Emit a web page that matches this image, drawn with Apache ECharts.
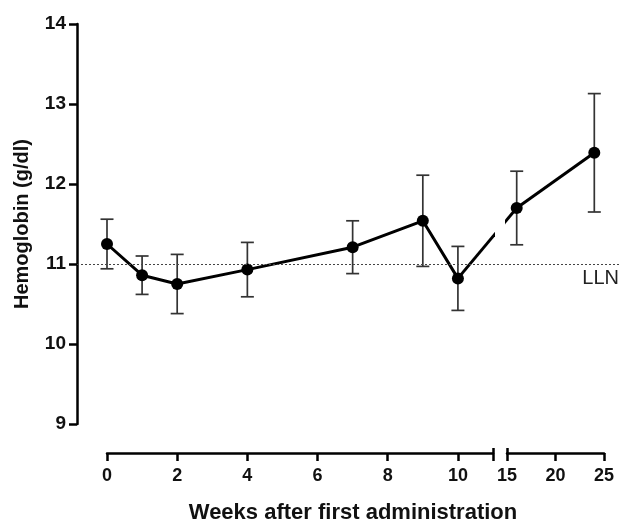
<!DOCTYPE html>
<html>
<head>
<meta charset="utf-8">
<script src="https://cdn.jsdelivr.net/npm/echarts@6/dist/echarts.min.js"></script>
<style>html,body{margin:0;padding:0;background:#fff}#c{width:620px;height:522px}</style>
</head>
<body>
<div id="c"></div>
<script>
// ---- data ----
const weeksEarly = [0, 1, 2, 4, 7, 9, 10];
const meanEarly  = [11.25, 10.86, 10.75, 10.93, 11.21, 11.54, 10.82];
const sdEarly    = [0.31, 0.24, 0.37, 0.34, 0.33, 0.57, 0.40];
const weeksLate  = [16, 24];
const meanLate   = [11.70, 12.39];
const sdLate     = [0.46, 0.74];
const lln = 11;
const yTicks = [9, 10, 11, 12, 13, 14];
const ticksEarly = [0, 2, 4, 6, 8, 10];
const ticksLate = [15, 20, 25];

// ---- layout ----
const gA = {left: 107, width: 386, min: 0, max: 11};
const gB = {left: 507, width: 97, min: 15, max: 25};
const plotTop = 24, plotHeight = 400;
const pxA = v => gA.left + (v - gA.min) / (gA.max - gA.min) * gA.width;
const pxB = v => gB.left + (v - gB.min) / (gB.max - gB.min) * gB.width;
const fromPxA = p => gA.min + (p - gA.left) / gA.width * (gA.max - gA.min);
const fromPxB = p => gB.min + (p - gB.left) / gB.width * (gB.max - gB.min);

const lastE = weeksEarly.length - 1;
const connA = [[weeksEarly[lastE], meanEarly[lastE]], [fromPxA(pxB(weeksLate[0])), meanLate[0]]];
const connB = [[fromPxB(pxA(weeksEarly[lastE])), meanEarly[lastE]], [weeksLate[0], meanLate[0]]];

const errEarly = weeksEarly.map((w, i) => [w, meanEarly[i] - sdEarly[i], meanEarly[i] + sdEarly[i]]);
const errLate = weeksLate.map((w, i) => [w, meanLate[i] - sdLate[i], meanLate[i] + sdLate[i]]);

const txt = '#111';
const fontFam = 'Liberation Sans, Arial, sans-serif';

function errRender(params, api) {
  const x = api.value(0);
  const lo = api.coord([x, api.value(1)]);
  const hi = api.coord([x, api.value(2)]);
  const cw = 6.5;
  const st = {stroke: '#333', lineWidth: 1.7};
  return {type: 'group', children: [
    {type: 'line', shape: {x1: lo[0], y1: lo[1], x2: hi[0], y2: hi[1]}, style: st},
    {type: 'line', shape: {x1: lo[0] - cw, y1: lo[1], x2: lo[0] + cw, y2: lo[1]}, style: st},
    {type: 'line', shape: {x1: hi[0] - cw, y1: hi[1], x2: hi[0] + cw, y2: hi[1]}, style: st}
  ]};
}

function mainX(gridIndex, g, labels, tickVals) {
  return {
    gridIndex: gridIndex, type: 'value', min: g.min, max: g.max, offset: 29, splitLine: {show: false},
    axisLine: {show: true, lineStyle: {color: '#000', width: 2.5}},
    axisTick: {show: true, length: 8, customValues: tickVals, lineStyle: {color: '#000', width: 2.5}},
    axisLabel: {color: txt, fontSize: 18, fontWeight: 'bold', fontFamily: fontFam, margin: 14,
                customValues: labels}
  };
}
function breakX(gridIndex, g, val) {
  return {
    gridIndex: gridIndex, type: 'value', min: g.min, max: g.max, offset: 29, position: 'bottom',
    splitLine: {show: false}, axisLine: {show: false}, axisLabel: {show: false},
    axisTick: {show: true, inside: true, length: 5, customValues: [val], lineStyle: {color: '#000', width: 2.5}}
  };
}

const gridCommon = {top: plotTop, height: plotHeight, containLabel: false, outerBoundsMode: 'none'};

const chart = echarts.init(document.getElementById('c'), null, {renderer: 'canvas'});
chart.setOption({
  animation: false,
  backgroundColor: '#fff',
  grid: [
    Object.assign({left: 77, width: 543}, gridCommon),
    Object.assign({left: gA.left, width: gA.width}, gridCommon),
    Object.assign({left: gB.left, width: gB.width}, gridCommon)
  ],
  xAxis: [
    {gridIndex: 0, type: 'value', min: 0, max: 1, axisLine: {show: false}, axisTick: {show: false},
     axisLabel: {show: false}, splitLine: {show: false},
     name: 'Weeks after first administration', nameLocation: 'middle', nameGap: 78,
     nameTextStyle: {color: txt, fontSize: 22, fontWeight: 'bold', fontFamily: fontFam, padding: [0, 0, 0, 9]}},
    mainX(1, gA, ticksEarly, ticksEarly.concat([gA.max])),
    mainX(2, gB, ticksLate, ticksLate),
    breakX(1, gA, gA.max),
    breakX(2, gB, gB.min)
  ],
  yAxis: [
    {gridIndex: 0, type: 'value', min: yTicks[0], max: yTicks[yTicks.length - 1], interval: 1,
     splitLine: {show: false},
     axisLine: {show: true, lineStyle: {color: '#000', width: 2.5}},
     axisTick: {show: true, length: 8, lineStyle: {color: '#000', width: 2.5}},
     axisLabel: {color: txt, fontSize: 19, fontWeight: 'bold', fontFamily: fontFam, margin: 11},
     name: 'Hemoglobin (g/dl)', nameLocation: 'middle', nameGap: 45, nameRotate: 90,
     nameTextStyle: {color: txt, fontSize: 20, fontWeight: 'bold', fontFamily: fontFam}},
    {gridIndex: 1, type: 'value', min: 9, max: 14, show: false},
    {gridIndex: 2, type: 'value', min: 9, max: 14, show: false}
  ],
  series: [
    {type: 'line', xAxisIndex: 0, yAxisIndex: 0, data: [], silent: true,
     markLine: {silent: true, symbol: 'none', animation: false,
       lineStyle: {color: '#444', width: 1.2, type: [2, 2]},
       label: {show: true, position: 'insideEndBottom', formatter: 'LLN', color: '#222',
               fontSize: 20, fontFamily: fontFam, distance: [1, 4]},
       data: [{yAxis: lln}]}},
    {type: 'custom', xAxisIndex: 1, yAxisIndex: 1, data: errEarly, renderItem: errRender, z: 1, silent: true},
    {type: 'custom', xAxisIndex: 2, yAxisIndex: 2, data: errLate, renderItem: errRender, z: 1, silent: true},
    {type: 'line', xAxisIndex: 1, yAxisIndex: 1, data: connA, symbol: 'none', clip: true,
     lineStyle: {color: '#000', width: 3}, z: 2},
    {type: 'line', xAxisIndex: 2, yAxisIndex: 2, data: connB, symbol: 'none', clip: true,
     lineStyle: {color: '#000', width: 3}, z: 2},
    {type: 'line', xAxisIndex: 1, yAxisIndex: 1, data: weeksEarly.map((w, i) => [w, meanEarly[i]]),
     symbol: 'circle', symbolSize: 12, itemStyle: {color: '#000'}, lineStyle: {color: '#000', width: 3}, z: 3},
    {type: 'line', xAxisIndex: 2, yAxisIndex: 2, data: weeksLate.map((w, i) => [w, meanLate[i]]),
     symbol: 'circle', symbolSize: 12, itemStyle: {color: '#000'}, lineStyle: {color: '#000', width: 3}, z: 3}
  ]
});
</script>
</body>
</html>
